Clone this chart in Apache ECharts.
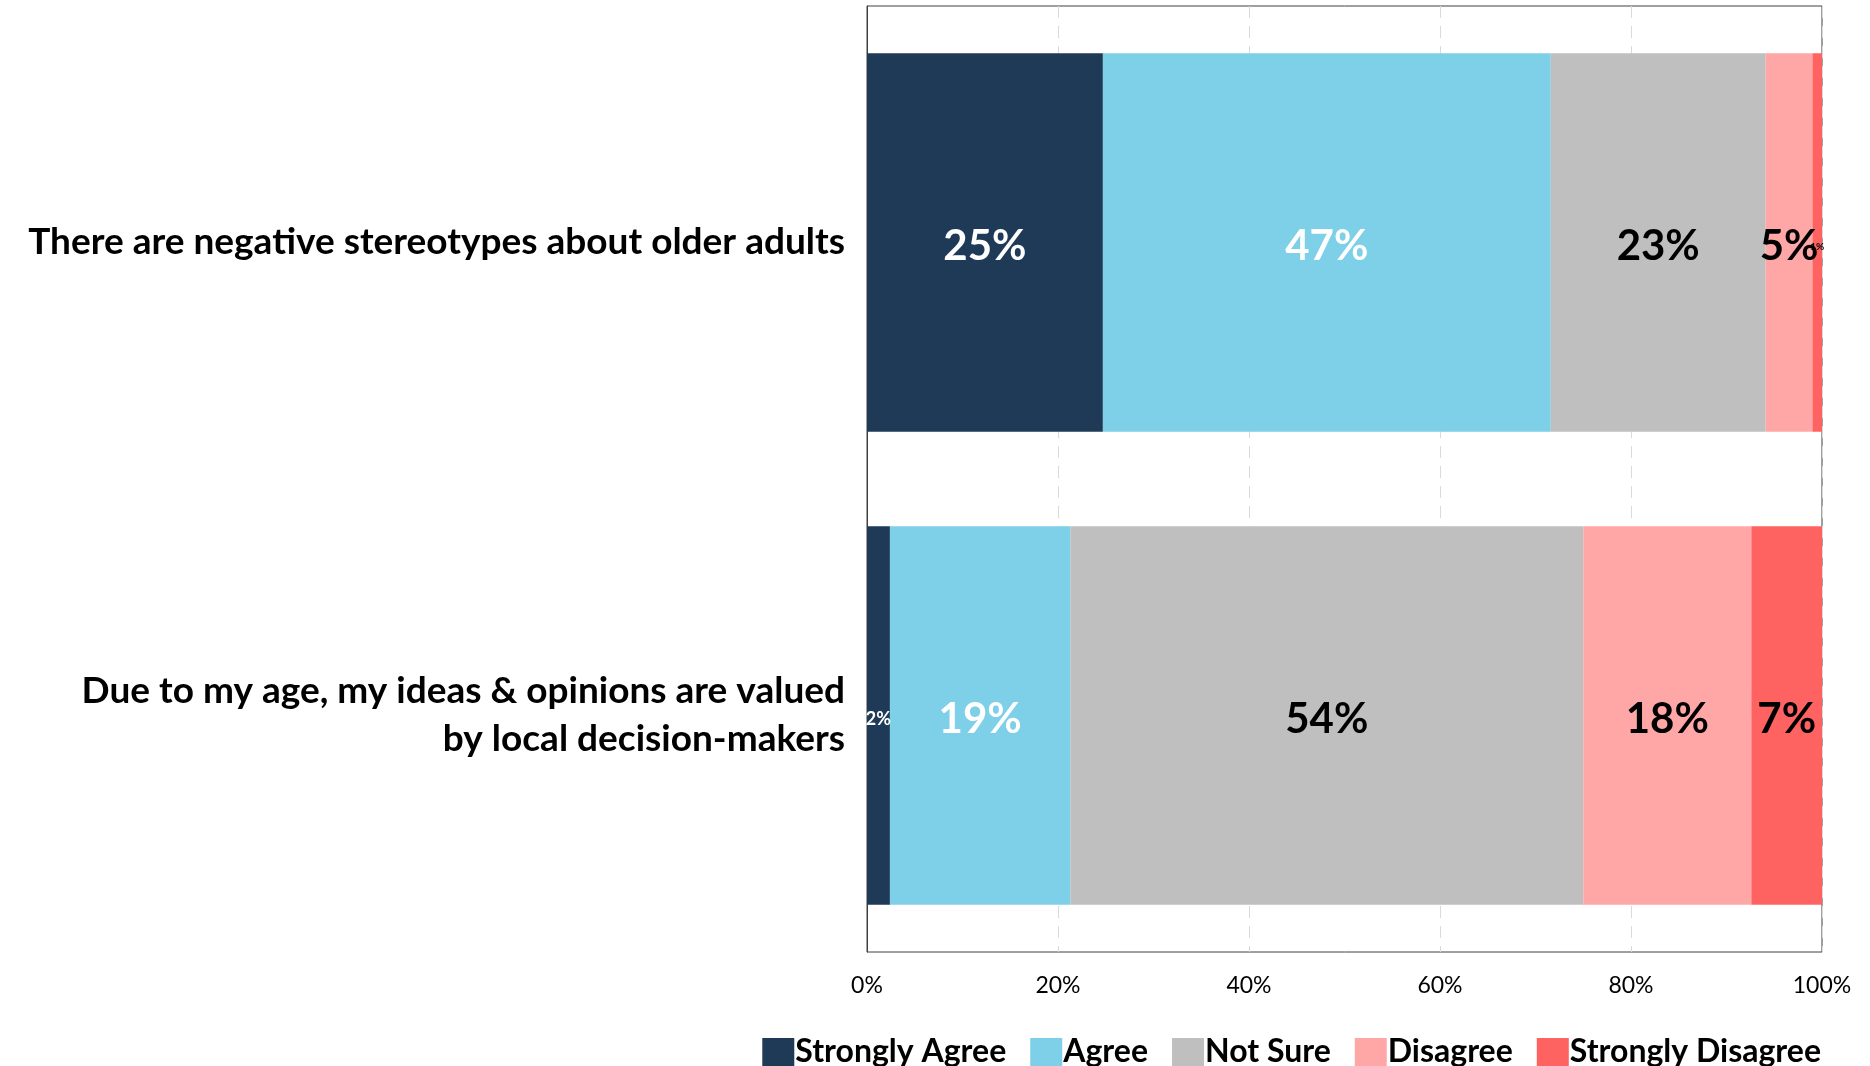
<!DOCTYPE html>
<html>
<head>
<meta charset="utf-8">
<script src="https://cdn.jsdelivr.net/npm/echarts@6/dist/echarts.min.js"></script>
<style>html,body{margin:0;padding:0;background:#fff}#c{width:1870px;height:1066px}</style>
</head>
<body>
<div id="c"></div>
<script>
const categories = ["There are negative stereotypes about older adults", "Due to my age, my ideas & opinions are valued\nby local decision-makers"];
const seriesNames = ["Strongly Agree", "Agree", "Not Sure", "Disagree", "Strongly Disagree"];
const stronglyAgree = [24.7, 2.4];
const agree = [46.9, 18.9];
const notSure = [22.5, 53.7];
const disagree = [4.9, 17.6];
const stronglyDisagree = [1.0, 7.4];
const xTicks = [0, 20, 40, 60, 80, 100];

const colors = ["#1F3A56", "#7ECFE8", "#BFBFBF", "#FFA7A7", "#FF6361"];
const labelColors = ["#fff", "#fff", "#000", "#000", "#000"];
const values = [stronglyAgree, agree, notSure, disagree, stronglyDisagree];
const FONT = "Lato";

const series = values.map((vals, i) => ({
  name: seriesNames[i],
  type: "bar",
  stack: "total",
  barWidth: "80%",
  itemStyle: { color: colors[i] },
  data: vals.map(v => ({
    value: v,
    label: {
      show: true,
      position: "inside",
      formatter: p => Math.round(p.value) + "%",
      color: labelColors[i],
      fontFamily: FONT,
      fontWeight: "bold",
      fontSize: v < 2 ? 10 : (v < 3 ? 18 : 42),
      offset: [0, 4]
    }
  }))
}));

const chart = echarts.init(document.getElementById("c"), null, { renderer: "canvas" });
chart.setOption({
  animation: false,
  color: colors,
  grid: { left: 867, right: 48, top: 6, bottom: 114, show: true, borderColor: "#404040", borderWidth: 1, backgroundColor: "transparent" },
  legend: {
    right: 44, top: 1031, icon: "rect",
    itemWidth: 32, itemHeight: 28, itemGap: 24,
    textStyle: { fontFamily: FONT, fontWeight: "bold", fontSize: 32, color: "#000", padding: [0, 0, 0, -4] },
    data: seriesNames
  },
  xAxis: {
    type: "value", min: 0, max: 100, interval: 20,
    axisLine: { show: false }, axisTick: { show: false },
    splitLine: { show: true, lineStyle: { color: "#D9D9D9", type: [12, 8], width: 1 } },
    axisLabel: { formatter: v => xTicks.includes(v) ? v + "%" : "", fontFamily: FONT, fontSize: 23, color: "#000", margin: 22 }
  },
  yAxis: {
    type: "category", inverse: true, data: categories,
    axisLine: { show: true, lineStyle: { color: "#404040" } },
    axisTick: { show: false },
    axisLabel: { fontFamily: FONT, fontWeight: "bold", fontSize: 37, color: "#000", margin: 22, lineHeight: 48, align: "right" }
  },
  series: series
});
</script>
</body>
</html>
